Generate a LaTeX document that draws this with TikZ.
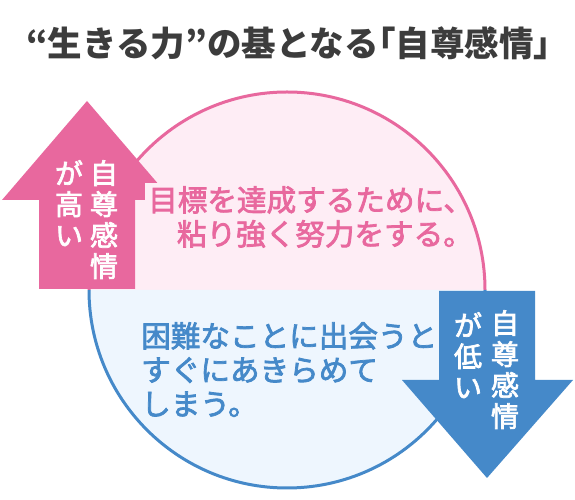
\documentclass[tikz,border=0pt]{standalone}
\usepackage{fontspec}
\newfontfamily\jp{Noto Sans CJK JP}
\newfontfamily\jpm[FakeBold=2.5]{Noto Sans CJK JP}
\definecolor{pinkmain}{HTML}{E8689E}
\definecolor{pinkfill}{HTML}{FEEDF5}
\definecolor{bluemain}{HTML}{4589C9}
\definecolor{bluefill}{HTML}{EEF6FE}
\definecolor{titlegray}{HTML}{3C3C3C}
\begin{document}
\begin{tikzpicture}[x=1bp,y=1bp,
  titletext/.style={font=\jp\bfseries\fontsize{34.5bp}{36bp}\selectfont, text=titlegray, inner sep=0},
  arrowtext/.style={font=\jpm\fontsize{28bp}{31bp}\selectfont, text=white, align=center, inner sep=0, anchor=north},
  pinkbody/.style={font=\jpm\fontsize{29.6bp}{34bp}\selectfont, text=pinkmain, align=right, inner sep=3bp, anchor=north west},
  bluebody/.style={font=\jpm\fontsize{29.6bp}{34bp}\selectfont, text=bluemain, align=left, inner sep=0, anchor=north west},
  rim/.style={line width=3bp}
]
\useasboundingbox (0,0) rectangle (575,500);
\fill[white] (0,0) rectangle (575,500);
% circle halves
\coordinate (cc) at (287,210);
\fill[pinkfill] (89,210) arc[start angle=180,end angle=0,radius=198] -- cycle;
\fill[bluefill] (89,210) arc[start angle=180,end angle=360,radius=198] -- cycle;
\draw[pinkmain,rim] (89,210) arc[start angle=180,end angle=0,radius=198];
\draw[bluemain,rim] (89,210) arc[start angle=180,end angle=360,radius=198];
% arrows
\fill[pinkmain] (87,399) -- (172,300) -- (135,300) -- (135,211) -- (39,211) -- (39,300) -- (2,300) -- cycle;
\fill[bluemain] (439,209) -- (535,209) -- (535,120) -- (573,120) -- (487,22) -- (402,120) -- (439,120) -- cycle;
% halo behind the pink text, cutting the arrow head
\fill[pinkfill] (145,298) rectangle (180,317);
% title
\node[titletext, anchor=west] (title) at (26,457) {“生きる力”の基となる{\addfontfeature{RawFeature=+halt}「}自尊感情」};
% arrow texts
\node[arrowtext] (pa) at (104,340) {自\\尊\\感\\情};
\node[arrowtext] (pb) at (69,340) {が\\高\\い};
\node[arrowtext] (ba) at (505,190) {自\\尊\\感\\情};
\node[arrowtext] (bb) at (468,188) {が\\低\\い};
% body texts
\node[pinkbody] (pt) at (145,317) {目標を達成するために、\\粘り強く努力をする。};
\node[bluebody] (bt) at (141,178) {困難なことに出会うと\\すぐにあきらめて\\しまう。};
\end{tikzpicture}
\end{document}
